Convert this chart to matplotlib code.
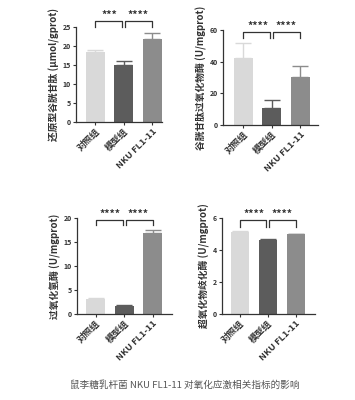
import matplotlib
matplotlib.use('Agg')
import matplotlib.pyplot as plt

plt.rcParams['font.family'] = ['Noto Sans CJK SC', 'DejaVu Sans']

# groups and colours
groups = ['对照组', '模型组', 'NKU FL1-11']
bar_colors = ['#d9d9d9', '#5c5c5c', '#8c8c8c']

# values (mean, upper error)
gsh_mean = [18.5, 15.1, 21.8]
gsh_err = [0.4, 0.9, 1.5]
gpx_mean = [42.5, 11.0, 30.5]
gpx_err = [9.0, 4.5, 6.5]
cat_mean = [3.2, 1.7, 16.9]
cat_err = [0.1, 0.2, 0.5]
sod_mean = [5.1, 4.62, 4.97]
sod_err = [0.07, 0.04, 0.03]

gsh_stars = ['***', '****']
gpx_stars = ['****', '****']
cat_stars = ['****', '****']
sod_stars = ['****', '****']

fig = plt.figure(figsize=(3.55, 4.0), dpi=100)


def draw_panel(rect, means, errs, ylim, yticks, xlim, ylabel, stars, bracket,
               width=0.67):
    ax = fig.add_axes(rect)
    x = list(range(len(means)))
    ax.bar(x, means, width=width, color=bar_colors, edgecolor='none', zorder=2)
    # upward-only error bars, one per bar so each keeps its own colour
    for xi, m, e, c in zip(x, means, errs, bar_colors):
        ax.errorbar([xi], [m], yerr=[[0], [e]], fmt='none', ecolor=c,
                    elinewidth=1.0, capsize=5.5, capthick=1.0, zorder=1)
    ax.set_ylim(*ylim)
    ax.set_xlim(*xlim)
    ax.set_yticks(yticks)
    ax.set_yticklabels([str(t) for t in yticks], fontsize=5, fontweight='bold')
    ax.set_xticks(x)
    ax.set_xticklabels(groups, rotation=45, ha='right', rotation_mode='anchor',
                       fontsize=6.6, fontweight='bold', color='#333333')
    ax.tick_params(axis='both', length=2, width=0.8, pad=1.5, colors='#333333')
    for s in ['top', 'right']:
        ax.spines[s].set_visible(False)
    for s in ['left', 'bottom']:
        ax.spines[s].set_linewidth(0.9)
        ax.spines[s].set_color('#333333')
    ax.set_ylabel(ylabel, fontsize=7, fontweight='bold', labelpad=2, color='#333333')

    # significance brackets (line height, tip height in data units)
    y_br, y_tip = bracket
    span = ylim[1] - ylim[0]
    for (a, b), st in zip([(0, 1), (1, 2)], stars):
        xa = a + (0.05 if a == 1 else 0)
        xb = b - (0.05 if b == 1 else 0)
        ax.plot([xa, xa, xb, xb], [y_tip, y_br, y_br, y_tip], color='#333333',
                lw=0.9, clip_on=False)
        ax.text((a + b) / 2, y_br + span * 0.01, st, ha='center', va='bottom',
                fontsize=7.5, fontweight='bold', color='#333333')
    return ax


draw_panel([0.214, 0.695, 0.242, 0.2375], gsh_mean, gsh_err, (0, 25),
           [0, 5, 10, 15, 20, 25], (-0.68, 2.33), '还原型谷胱甘肽 (μmol/gprot)',
           gsh_stars, (26.6, 25.0))
draw_panel([0.628, 0.6875, 0.268, 0.2375], gpx_mean, gpx_err, (0, 60),
           [0, 20, 40, 60], (-0.72, 2.63), '谷胱甘肽过氧化物酶 (U/mgprot)',
           gpx_stars, (58.7, 55.0))
draw_panel([0.217, 0.215, 0.268, 0.24], cat_mean, cat_err, (0, 20),
           [0, 5, 10, 15, 20], (-0.65, 2.68), '过氧化氢酶 (U/mgprot)',
           cat_stars, (19.6, 18.5))
draw_panel([0.625, 0.215, 0.262, 0.24], sod_mean, sod_err, (0, 6),
           [0, 2, 4, 6], (-0.64, 2.68), '超氧化物歧化酶 (U/mgprot)',
           sod_stars, (5.87, 5.43), width=0.65)

fig.text(0.52, 0.037, '鼠李糖乳杆菌 NKU FL1-11 对氧化应激相关指标的影响',
         ha='center', va='center', fontsize=6.9, color='#555555')

fig.savefig('out.png', dpi=100)
